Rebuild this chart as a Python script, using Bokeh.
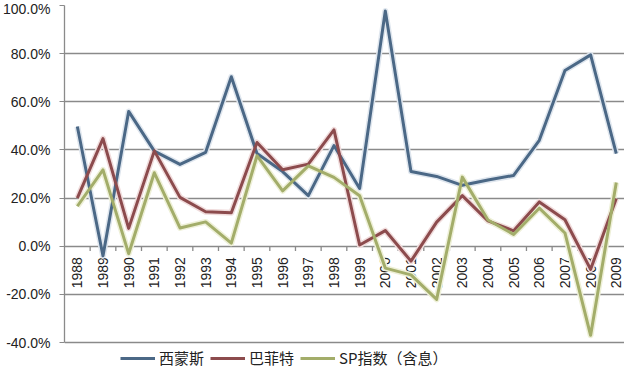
from bokeh.plotting import figure
from bokeh.models import ColumnDataSource, Legend, LegendItem, FixedTicker, PrintfTickFormatter, Range1d
from bokeh.core.properties import value
from bokeh.embed import file_html
from bokeh.resources import INLINE

years = ["1988", "1989", "1990", "1991", "1992", "1993", "1994", "1995", "1996", "1997", "1998",
         "1999", "2000", "2001", "2002", "2003", "2004", "2005", "2006", "2007", "2008", "2009"]
simons = [49.7, -4.0, 56.0, 39.5, 34.0, 39.0, 70.4, 38.5, 31.0, 21.0, 41.8,
          24.0, 97.7, 31.0, 29.0, 25.3, 27.5, 29.4, 44.0, 73.0, 79.5, 38.5]
buffett = [20.0, 44.7, 7.4, 39.6, 20.3, 14.3, 13.9, 43.1, 31.8, 34.1, 48.3,
           0.5, 6.5, -6.2, 10.0, 21.0, 10.5, 6.4, 18.4, 11.0, -9.6, 19.8]
sp = [16.6, 31.7, -3.1, 30.5, 7.6, 10.1, 1.3, 37.6, 23.0, 33.4, 28.6,
      21.0, -9.1, -11.9, -22.1, 28.7, 10.9, 4.9, 15.8, 5.5, -37.0, 26.5]
y_ticks = [-40, -20, 0, 20, 40, 60, 80, 100]
series_names = ["西蒙斯", "巴菲特", "SP指数（含息）"]

idx = list(range(len(years)))
src = ColumnDataSource(dict(x=idx, year=years, simons=simons, buffett=buffett, sp=sp))
bounds = ColumnDataSource(dict(x=[i + 0.5 for i in idx[:-1]]))

# frame extends below -40% to make room for the legend
p = figure(width=624, height=368, output_backend="svg", toolbar_location=None,
           x_range=Range1d(-0.5, 21.32), y_range=Range1d(-50.8, 100),
           min_border_left=49, min_border_right=0, min_border_top=5, min_border_bottom=0)
p.outline_line_color = None
p.background_fill_color = "white"
p.xaxis.visible = False
p.xgrid.visible = False
p.ygrid.grid_line_color = "#8a8a8a"
p.ygrid.grid_line_width = 1.3
p.ygrid.ticker = FixedTicker(ticks=y_ticks)

ax = p.yaxis[0]
ax.ticker = FixedTicker(ticks=y_ticks)
ax.bounds = (-40, 100)
ax.formatter = PrintfTickFormatter(format="%.1f%%")
ax.axis_line_color = "#8a8a8a"
ax.axis_line_width = 1.3
ax.major_tick_line_color = "#8a8a8a"
ax.major_tick_out = 5
ax.major_tick_in = 0
ax.minor_tick_line_color = None
ax.major_label_standoff = 9
ax.major_label_text_font = "Liberation Sans"
ax.major_label_text_font_size = "14px"
ax.major_label_text_color = "#222222"

# zero line tick marks and year labels
p.segment(x0="x", y0=0, x1="x", y1=-2, source=bounds, line_color="#8a8a8a", line_width=1.3)
p.text(x="x", y=0, text="year", source=src, angle=1.5708, text_align="right",
       text_baseline="middle", y_offset=11, text_font=value("Liberation Sans"),
       text_font_size="14px", text_color="#222222")

colors = ["#4b6886", "#8c4b4d", "#a3ad6a"]
glow = ["#dfe6ee", "#f0dcdc", "#eef0d8"]
rs = []
for col, c, g in zip(["simons", "buffett", "sp"], colors, glow):
    p.line(x="x", y=col, source=src, line_color=g, line_width=6, line_join="round")
for col, c in zip(["simons", "buffett", "sp"], colors):
    rs.append(p.line(x="x", y=col, source=src, line_color=c, line_width=3, line_join="round"))

legend = Legend(items=[LegendItem(label=n, renderers=[r]) for n, r in zip(series_names, rs)],
                orientation="horizontal", location=(56, 0), padding=0, margin=0,
                spacing=6, glyph_width=35, glyph_height=16, label_standoff=4,
                label_height=16,
                label_text_font="Noto Sans CJK SC", label_text_font_size="15px",
                label_text_color="#222222", border_line_color=None,
                background_fill_alpha=0)
p.add_layout(legend, "center")

open("out.html", "w").write(file_html(p, INLINE))
